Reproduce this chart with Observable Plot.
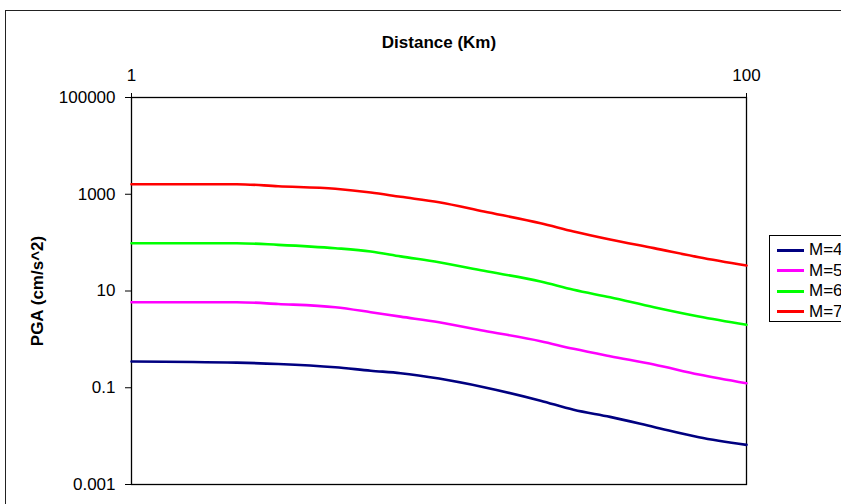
<!DOCTYPE html>
<html><head><meta charset="utf-8">
<script src="https://cdn.jsdelivr.net/npm/d3@7"></script>
<script src="https://cdn.jsdelivr.net/npm/@observablehq/plot@0.6"></script>
<style>
html,body{margin:0;padding:0;background:#fff;overflow:hidden;width:841px;height:504px;}
#wrap{position:relative;width:841px;height:504px;font-family:"Liberation Sans",Arial,sans-serif;overflow:hidden;}
#border{position:absolute;left:5px;top:10px;width:900px;height:600px;border:1.5px solid #222;box-sizing:border-box;}
#chart{position:absolute;left:0;top:0;}
#legend{position:absolute;left:769px;top:235px;width:100px;height:87px;border:1px solid #000;background:#fff;box-sizing:border-box;}
.item{position:absolute;left:7px;height:20px;display:flex;align-items:center;font-size:17px;color:#000;white-space:nowrap;}
.sw{width:27px;height:3px;margin-right:5px;}
</style></head>
<body><div id="wrap"><div id="border"></div><div id="chart"></div><div id="legend"></div></div>
<script>
const distance = [1, 2.2, 3, 4.6, 6, 7.5, 10, 14, 21.4, 27.4, 36, 50, 70, 100];
const series = ["M=4", "M=5", "M=6", "M=7"];
const colors = ["#000080", "#FF00FF", "#00FF00", "#FF0000"];
const pgaM4 = [0.349, 0.33, 0.31, 0.265, 0.225, 0.2, 0.155, 0.1026, 0.054, 0.035, 0.025, 0.0155, 0.0095, 0.0066];
const pgaM5 = [5.87, 5.87, 5.4, 4.62, 3.65, 2.95, 2.26, 1.51, 0.916, 0.638, 0.449, 0.303, 0.188, 0.124];
const pgaM6 = [97.3, 97.3, 90, 76.7, 65.6, 52, 39.4, 26.1, 15.7, 10.6, 7.4, 4.62, 2.97, 2.0];
const pgaM7 = [1614, 1614, 1466, 1297, 1087, 885, 685, 440, 252, 170, 116, 77, 50, 33.7];
const xTicks = [1, 100];
const yTicks = [0.001, 0.1, 10, 1000, 100000];
const xTitle = "Distance (Km)";
const yTitle = "PGA (cm/s^2)";

const values = [pgaM4, pgaM5, pgaM6, pgaM7];
const data = [];
series.forEach((s, i) => distance.forEach((d, j) => data.push({series: s, distance: d, pga: values[i][j]})));

const chart = Plot.plot({
  width: 841, height: 504,
  marginLeft: 131, marginRight: 95, marginTop: 97, marginBottom: 20,
  style: {fontFamily: '"Liberation Sans", Arial, sans-serif', fontSize: "17px", color: "#000", background: "transparent", overflow: "visible"},
  x: {type: "log", domain: [1, 100]},
  y: {type: "log", domain: [0.001, 100000]},
  color: {domain: series, range: colors},
  marks: [
    Plot.frame({stroke: "#000", strokeWidth: 1.3}),
    Plot.axisX({anchor: "top", ticks: xTicks, tickFormat: d => String(d), tickSize: 5, tickPadding: 12, label: null, fontSize: 17}),
    Plot.axisY({anchor: "left", ticks: yTicks, tickFormat: d => String(d), tickSize: 6, tickPadding: 10, label: null, fontSize: 17}),
    Plot.line(data, {x: "distance", y: "pga", z: "series", stroke: "series", strokeWidth: 2.6, curve: "monotone-x"}),
    Plot.text([xTitle], {frameAnchor: "top", dy: -55, fontWeight: "bold", fontSize: 17, lineAnchor: "middle", textAnchor: "middle"}),
    Plot.text([yTitle], {frameAnchor: "left", dx: -94, rotate: -90, fontWeight: "bold", fontSize: 17, lineAnchor: "middle", textAnchor: "middle"})
  ]
});
document.getElementById("chart").appendChild(chart);

const legend = document.getElementById("legend");
series.forEach((s, i) => {
  const it = document.createElement("div");
  it.className = "item";
  it.style.top = (4 + i * 20.5) + "px";
  const sw = document.createElement("div");
  sw.className = "sw";
  sw.style.background = colors[i];
  it.appendChild(sw);
  const t = document.createElement("span");
  t.textContent = s;
  it.appendChild(t);
  legend.appendChild(it);
});
</script>
</body></html>
